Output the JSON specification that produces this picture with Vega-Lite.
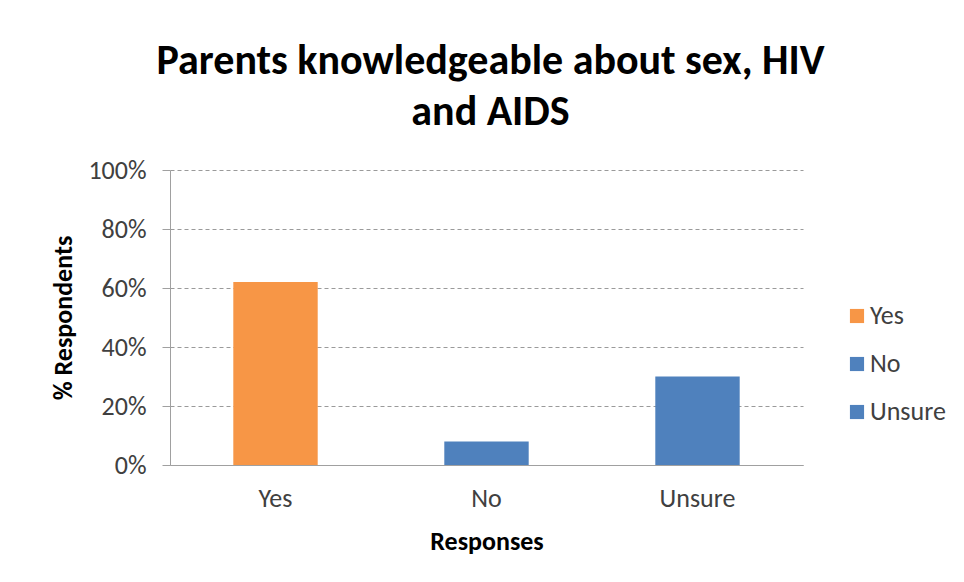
{
  "$schema": "https://vega.github.io/schema/vega-lite/v6.json",
  "autosize": {"type": "none"},
  "width": 633,
  "height": 295,
  "padding": {"left": 170, "top": 170, "right": 161, "bottom": 117},
  "background": "white",
  "title": {
    "text": ["Parents knowledgeable about sex, HIV", "and AIDS"],
    "anchor": "middle",
    "font": "Carlito, 'Liberation Sans Narrow', 'Open Sans', sans-serif",
    "fontSize": 42,
    "fontWeight": "bold",
    "color": "black",
    "lineHeight": 51,
    "offset": 23,
    "dx": 4
  },
  "data": {
    "values": [
      {"response": "Yes", "pct": 0.62},
      {"response": "No", "pct": 0.08},
      {"response": "Unsure", "pct": 0.30}
    ]
  },
  "mark": {"type": "bar"},
  "encoding": {
    "x": {
      "field": "response",
      "type": "nominal",
      "sort": ["Yes", "No", "Unsure"],
      "scale": {"paddingInner": 0.6, "paddingOuter": 0.3},
      "axis": {
        "title": "Responses",
        "labelAngle": 0,
        "ticks": false,
        "labelPadding": 20,
        "titlePadding": 17,
        "domainColor": "#a0a0a0"
      }
    },
    "y": {
      "field": "pct",
      "type": "quantitative",
      "scale": {"domain": [0, 1]},
      "axis": {
        "title": "% Respondents",
        "format": ".0%",
        "values": [0, 0.2, 0.4, 0.6, 0.8, 1],
        "tickSize": 8,
        "labelPadding": 16,
        "titlePadding": 11,
        "grid": true,
        "gridDash": [4, 3],
        "gridColor": "#9a9a9a",
        "domainColor": "#a0a0a0",
        "tickColor": "#a0a0a0"
      }
    },
    "color": {
      "field": "response",
      "type": "nominal",
      "scale": {"domain": ["Yes", "No", "Unsure"], "range": ["#F79646", "#4F81BD", "#4F81BD"]},
      "legend": {
        "title": null,
        "orient": "none",
        "legendX": 674,
        "legendY": 133,
        "symbolType": "square",
        "symbolSize": 200,
        "symbolStrokeWidth": 0,
        "rowPadding": 22,
        "labelOffset": 0
      }
    }
  },
  "config": {
    "view": {"stroke": null},
    "axis": {
      "labelFont": "Carlito, 'Liberation Sans Narrow', 'Open Sans', sans-serif",
      "labelFontSize": 26,
      "labelColor": "#404040",
      "titleFont": "Carlito, 'Liberation Sans Narrow', 'Open Sans', sans-serif",
      "titleFontSize": 26,
      "titleFontWeight": "bold",
      "titleColor": "black"
    },
    "legend": {
      "labelFont": "Carlito, 'Liberation Sans Narrow', 'Open Sans', sans-serif",
      "labelFontSize": 26,
      "labelColor": "#404040",
      "padding": 0
    }
  }
}
